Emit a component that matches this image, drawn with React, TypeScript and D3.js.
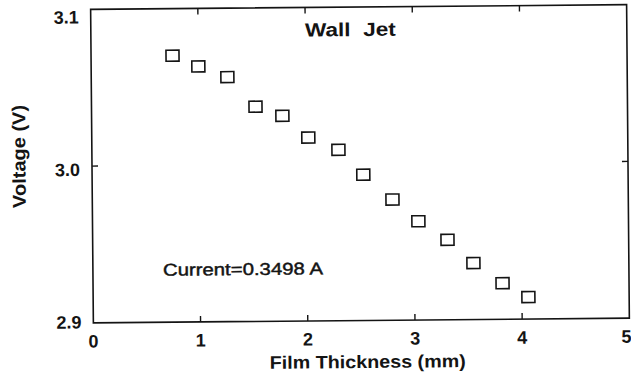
import React from "react";
import * as d3 from "d3";

// film thickness (mm) and cell voltage (V)
const thickness = [0.76, 1.0, 1.27, 1.53, 1.78, 2.02, 2.3, 2.53, 2.8, 3.04, 3.31, 3.55, 3.82, 4.06];
const voltage = [3.07, 3.063, 3.056, 3.037, 3.031, 3.017, 3.009, 2.993, 2.977, 2.963, 2.951, 2.936, 2.923, 2.914];

const xTicks = [0, 1, 2, 3, 4, 5];
const yTicks = [2.9, 3.0, 3.1];
const yTickLabels = ["2.9", "3.0", "3.1"];

const title = "Wall  Jet";
const note = "Current=0.3498 A";
const xTitle = "Film Thickness (mm)";
const yTitle = "Voltage (V)";

const W = 631, H = 379;
const font = "'Liberation Sans', Arial, Helvetica, sans-serif";
const ink = "#141414";

export default function App() {
  const x = d3.scaleLinear().domain([0, 5]).range([92, 628]);
  const y = d3.scaleLinear().domain([2.9, 3.1]).range([320.5, 7]);
  // the printed tick labels sit a little off the ticks
  const yLab = d3.scaleLinear().domain([2.9, 3.1]).range([326, 21]);

  const [x0, x1] = x.range();
  const [y0, y1] = y.range();
  const tl = 6;

  return (
    <svg width={W} height={H} style={{ position: "absolute", left: 0, top: 0, background: "#fff" }}>
      <g transform="rotate(-0.5 360 165)" fill={ink} fontFamily={font} fontWeight="bold">
        {/* frame */}
        <rect x={x0} y={y1} width={x1 - x0} height={y0 - y1} fill="none" stroke={ink} strokeWidth={1.6} />

        {/* inward ticks */}
        {xTicks.slice(1, -1).map(t => (
          <g key={"xt" + t} stroke={ink} strokeWidth={1.4}>
            <line x1={x(t)} x2={x(t)} y1={y0} y2={y0 - tl} />
            <line x1={x(t)} x2={x(t)} y1={y1} y2={y1 + tl} />
          </g>
        ))}
        {yTicks.slice(1, -1).map(t => (
          <g key={"yt" + t} stroke={ink} strokeWidth={1.4}>
            <line x1={x0} x2={x0 + tl} y1={y(t)} y2={y(t)} />
            <line x1={x1} x2={x1 - tl} y1={y(t)} y2={y(t)} />
          </g>
        ))}

        {/* tick labels (last one pulled in so it stays on the page) */}
        {xTicks.map((t, i) => {
          const last = i === xTicks.length - 1;
          return (
            <text key={"xl" + t} x={last ? W - 1 : x(t)} y={345}
              textAnchor={last ? "end" : "middle"} fontSize={18}>{t}</text>
          );
        })}
        {yTicks.map((t, i) => (
          <text key={"yl" + t} x={80} y={yLab(t)} textAnchor="end" fontSize={18}>{yTickLabels[i]}</text>
        ))}

        {/* axis titles */}
        <text x={366} y={368} textAnchor="middle" fontSize={18} textLength={196} lengthAdjust="spacingAndGlyphs">{xTitle}</text>
        <text transform="translate(25.5,153.5) rotate(-90)" textAnchor="middle" fontSize={18.5} textLength={103} lengthAdjust="spacingAndGlyphs">{yTitle}</text>

        {/* annotations */}
        <text x={351.5} y={36} textAnchor="middle" fontSize={19} textLength={91} lengthAdjust="spacingAndGlyphs" style={{ whiteSpace: "pre" }}>{title}</text>
        <text x={162} y={274} fontSize={17} fontWeight="normal" stroke={ink} strokeWidth={0.45}
          textLength={160} lengthAdjust="spacingAndGlyphs">{note}</text>

        {/* data */}
        {thickness.map((t, i) => (
          <rect key={"p" + i} x={x(t) - 6.5} y={y(voltage[i]) - 5.5} width={13} height={11}
            fill="none" stroke={ink} strokeWidth={1.6} />
        ))}
      </g>
    </svg>
  );
}
